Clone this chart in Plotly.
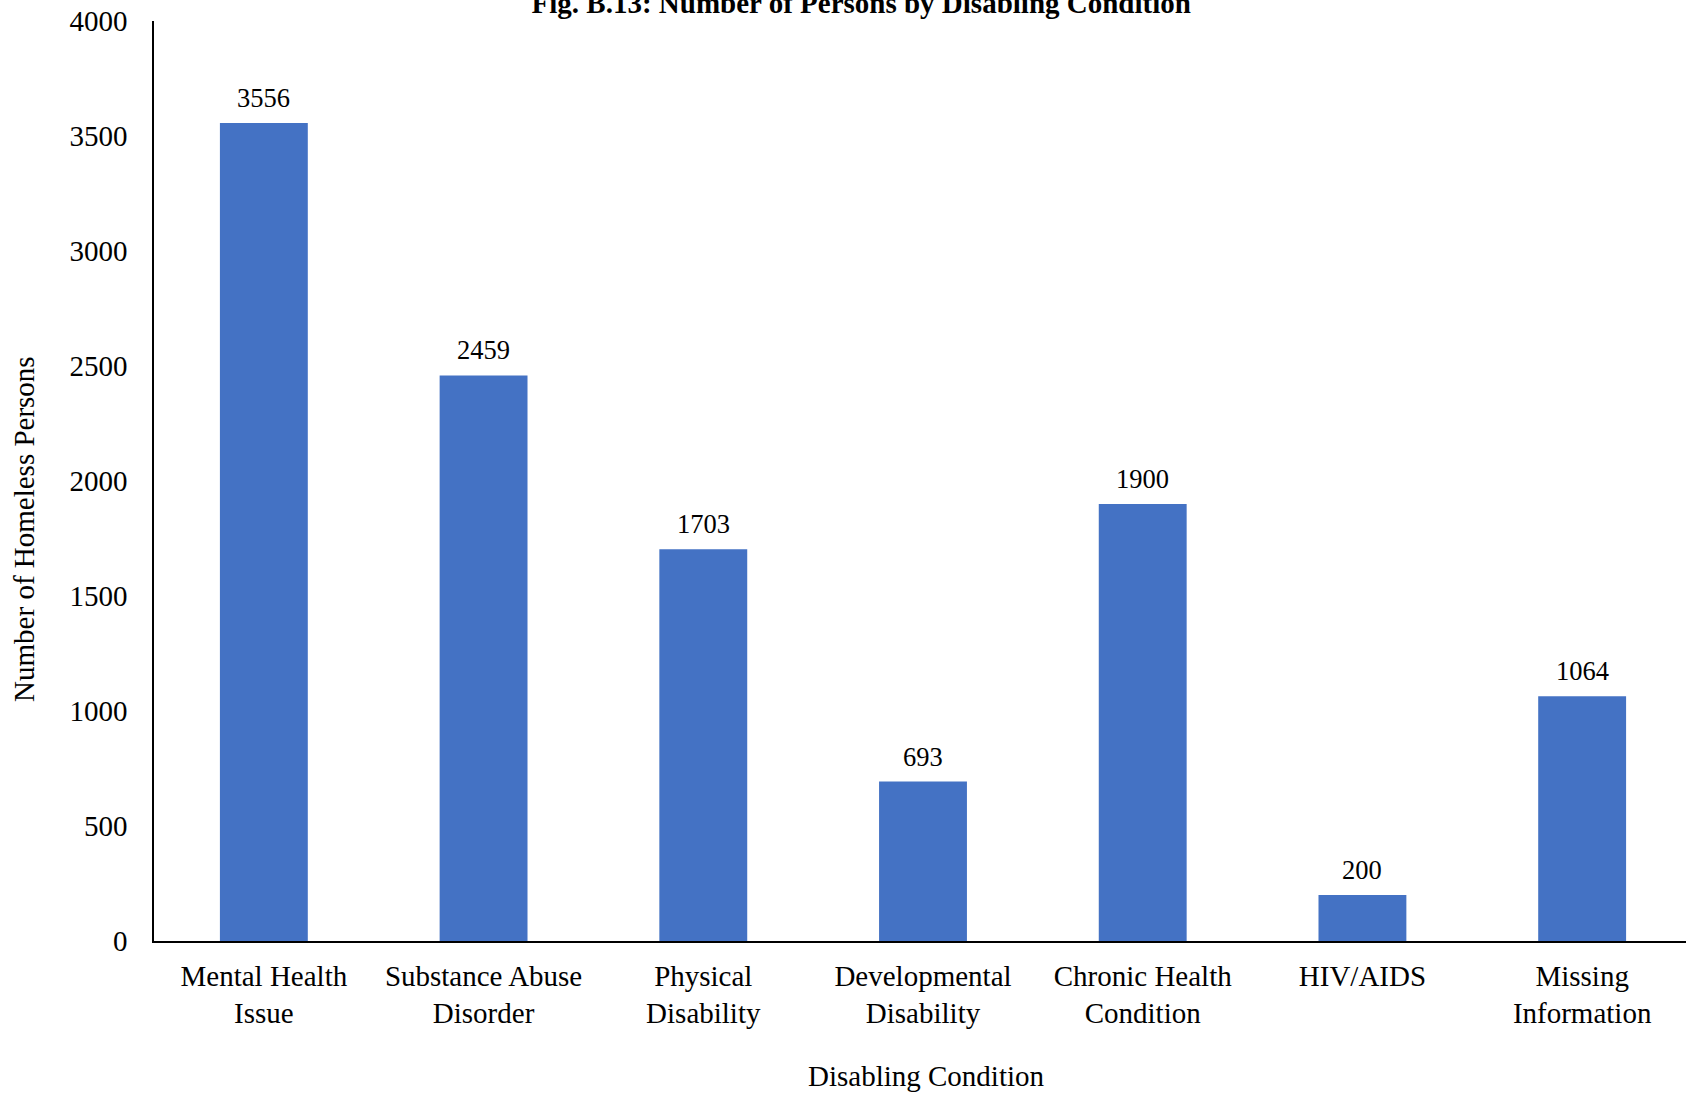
import plotly.graph_objects as go

# категории и значения
categories = [
    "Mental Health<br>Issue", "Substance Abuse<br>Disorder", "Physical<br>Disability",
    "Developmental<br>Disability", "Chronic Health<br>Condition", "HIV/AIDS",
    "Missing<br>Information"
]
persons = [3556, 2459, 1703, 693, 1900, 200, 1064]
y_ticks = [0, 500, 1000, 1500, 2000, 2500, 3000, 3500, 4000]

FONT = "Liberation Serif, Times New Roman, serif"

fig = go.Figure(go.Bar(
    x=categories,
    y=persons,
    marker=dict(color="#4472C4", line=dict(width=0)),
    width=0.4,
))

# подписи над столбцами
for c, v in zip(categories, persons):
    fig.add_annotation(
        x=c, y=v, text=str(v), showarrow=False,
        yanchor="bottom", yshift=8,
        font=dict(family=FONT, size=26.5, color="black"),
    )

fig.add_annotation(
    xref="paper", yref="paper", x=-0.0845, y=0.448,
    xanchor="center", yanchor="middle",
    text="Number of Homeless Persons", textangle=-90, showarrow=False,
    font=dict(family=FONT, size=29, color="black"),
)
fig.add_annotation(
    xref="paper", yref="paper", x=0.502, y=-0.147,
    xanchor="center", yanchor="middle",
    text="Disabling Condition", showarrow=False,
    font=dict(family=FONT, size=29, color="black"),
)

# график немного шире окна - правый край обрезан, как в оригинале
fig.update_layout(
    width=1692, height=1094,
    paper_bgcolor="white", plot_bgcolor="white",
    margin=dict(l=154, r=0, t=21, b=153),
    showlegend=False,
    font=dict(family=FONT, size=29, color="black"),
    title=dict(
        text="<b>Fig. B.13: Number of Persons by Disabling Condition</b>",
        x=0.509, xanchor="center", xref="container",
        y=0.997, yanchor="middle", yref="container",
        font=dict(family=FONT, size=29, color="black"),
    ),
    bargap=0.6,
)

fig.update_xaxes(
    showline=True, linecolor="black", linewidth=1.5,
    showgrid=False, ticks="outside", tickcolor="rgba(0,0,0,0)", ticklen=8,
    tickfont=dict(family=FONT, size=29, color="black"),
)
fig.update_yaxes(
    range=[0, 4000], tickvals=y_ticks,
    showline=True, linecolor="black", linewidth=1.5,
    showgrid=False, zeroline=False,
    ticks="outside", tickcolor="rgba(0,0,0,0)", ticklen=19,
    tickfont=dict(family=FONT, size=29, color="black"),
)

# убираем отступ body, чтобы график начинался с края страницы
fig.write_html(
    "out.html",
    config={"displayModeBar": False},
    post_script="document.body.style.margin='0';document.body.style.overflow='hidden';",
)
